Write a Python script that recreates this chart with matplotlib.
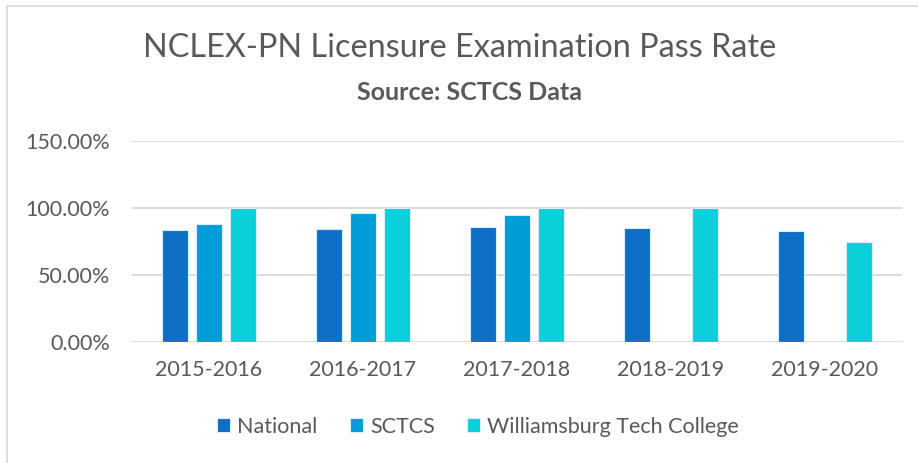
import numpy as np
import matplotlib.pyplot as plt
from matplotlib.lines import Line2D
from matplotlib.ticker import FuncFormatter

# Anii academici
years = ['2015-2016', '2016-2017', '2017-2018', '2018-2019', '2019-2020']

# Rata de promovare (%), citită din grafic
national = [83.6, 84.1, 85.8, 85.3, 82.8]
sctcs = [88.1, 96.0, 94.8, np.nan, np.nan]
williamsburg = [100, 100, 100, 100, 75]

series_names = ['National', 'SCTCS', 'Williamsburg Tech College']
colors = ['#0F6FC6', '#009DD9', '#0BD0D9']

plt.rcParams['font.family'] = ['Lato', 'DejaVu Sans']
text_color = '#595959'

W, H = 918, 463
fig = plt.figure(figsize=(W / 100, H / 100), dpi=100)
ax = fig.add_axes([132 / W, 1 - 342 / H, 770 / W, 201 / H])

x = np.arange(len(years))
step = 0.22
width = 0.173
for i, (vals, name, col) in enumerate(zip([national, sctcs, williamsburg], series_names, colors)):
    ax.bar(x + (i - 1) * step, vals, width, color=col, label=name,
           edgecolor='#D6EEF8', linewidth=0.8, zorder=3)

ax.set_xlim(-0.5, len(years) - 0.5)
ax.set_ylim(0, 150)
ax.set_yticks([0, 50, 100, 150])
ax.yaxis.set_major_formatter(FuncFormatter(lambda v, p: f'{v:.2f}%'))
ax.set_xticks(x)
ax.set_xticklabels(years)
ax.grid(axis='y', color='#D9D9D9', linewidth=1.3, zorder=0)
for s in ax.spines.values():
    s.set_visible(False)
ax.tick_params(length=0, labelsize=15.5, labelcolor=text_color)
ax.tick_params(axis='y', pad=16)
ax.tick_params(axis='x', pad=13)

fig.text(460 / W, 1 - 48 / H, 'NCLEX-PN Licensure Examination Pass Rate',
         ha='center', va='center', fontsize=23.3, color=text_color)
fig.text(469 / W, 1 - 92 / H, 'Source: SCTCS Data',
         ha='center', va='center', fontsize=18, color=text_color, fontweight='bold')

leg = fig.legend(loc='center', bbox_to_anchor=(478 / W, 1 - 427 / H), ncol=3, frameon=False,
                 fontsize=15.5, handlelength=0.62, handleheight=0.62, handletextpad=0.32,
                 columnspacing=1.5)
for t in leg.get_texts():
    t.set_color(text_color)

# chenarul graficului
fig.add_artist(Line2D([7 / W, 7 / W], [0, 1 - 6 / H], color='#D9D9D9', linewidth=1.2))
fig.add_artist(Line2D([7 / W, 1], [1 - 6 / H, 1 - 6 / H], color='#D9D9D9', linewidth=1.2))

plt.savefig('out.png', dpi=100)
